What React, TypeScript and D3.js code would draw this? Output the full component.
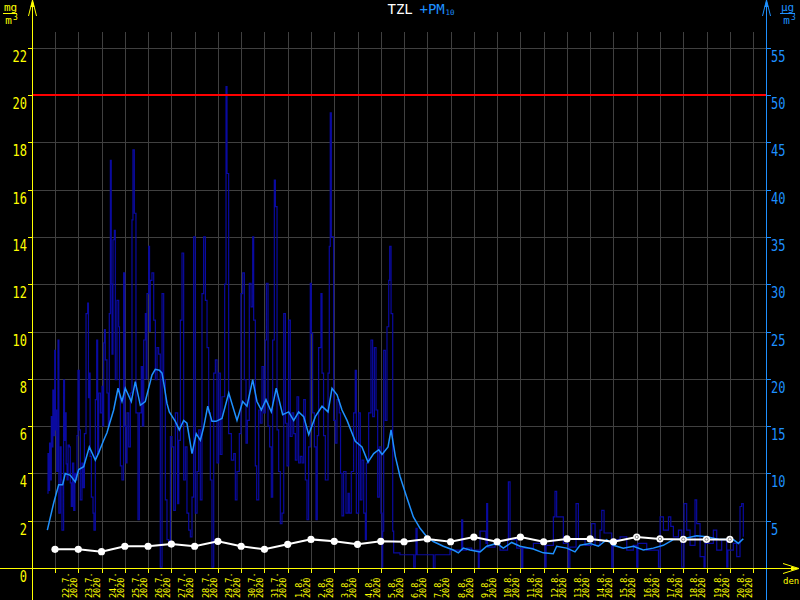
import React from "react";
import * as d3 from "d3";

// ---------- DATA ----------
const dayLabels = [
  "22.7.", "23.7.", "24.7.", "25.7.", "26.7.", "27.7.", "28.7.", "29.7.", "30.7.", "31.7.",
  "1.8.", "2.8.", "3.8.", "4.8.", "5.8.", "6.8.", "7.8.", "8.8.", "9.8.", "10.8.",
  "11.8.", "12.8.", "13.8.", "14.8.", "15.8.", "16.8.", "17.8.", "18.8.", "19.8.", "20.8.",
];
const yearLabel = "2020";
const leftTicks = [0, 2, 4, 6, 8, 10, 12, 14, 16, 18, 20, 22];
const rightTicks = [5, 10, 15, 20, 25, 30, 35, 40, 45, 50, 55];
const pm10Limit = 50;

// TZL daily values (mg/m3, left axis), one per day at 00:00
const tzlValues = [
  0.79, 0.79, 0.69, 0.92, 0.92, 1.01, 0.92, 1.13, 0.92, 0.79,
  1.0, 1.21, 1.13, 1.0, 1.13, 1.11, 1.23, 1.11, 1.31, 1.11,
  1.31, 1.11, 1.23, 1.23, 1.11, 1.31, 1.23, 1.21, 1.21, 1.21,
];
const tzlProvisional = [
  false, false, false, false, false, false, false, false, false, false,
  false, false, false, false, false, false, false, false, false, false,
  false, false, false, false, false, true, true, true, true, true,
];

// PM10 raw values [hours since 22.7. 00:00, ug/m3]
const pm10Raw: [number, number][] = [
  [-7.9, 7.9], [-7.2, 12.1], [-6.5, 8.2], [-5.6, 13.2], [-4.8, 9.3], [-3.8, 16.0], [-3.1, 12.8], [-2.2, 18.8],
  [-1.4, 14], [-0.3, 23.0], [0.4, 14.6], [1.0, 16.7], [1.8, 10.2], [3.1, 24.1], [4.0, 5.8], [5.5, 12.8],
  [6.3, 9.3], [7.2, 4.0], [8.9, 19.9], [9.8, 13.5], [10.7, 16.4], [11.5, 11], [12.4, 9.3], [13.5, 13.0],
  [14.8, 12.8], [15.8, 9], [16.8, 6.5], [18.0, 11.1], [19.3, 6.1], [20.5, 10.0], [21.7, 9.3], [22.7, 14],
  [23.7, 20.9], [25.0, 14.6], [26.1, 7.2], [27.8, 11.1], [29, 8.5], [30.3, 14.2], [32.0, 26.9], [33.7, 28.0],
  [34.5, 18], [35.4, 20.6], [36.2, 11.8], [37.5, 7.5], [39.2, 5.8], [40.2, 4.0], [41.6, 17.8], [43.0, 24.1],
  [44.0, 12.1], [45.0, 18.5], [46.8, 16.4], [48.5, 19.2], [49.3, 15.0], [50.2, 23.8], [51.0, 25.2], [51.9, 22.0],
  [53.6, 18.5], [55.0, 15.0], [56.0, 26.9], [57.1, 43.1], [58.0, 30], [58.8, 22.6], [59.8, 34.7], [61.2, 35.7],
  [62.2, 19.9], [63.9, 28.3], [65.7, 25.5], [66.5, 18], [67.4, 10.8], [69.1, 9.3], [70.8, 31.2], [72.0, 15.0],
  [73.2, 11.1], [74.3, 16.4], [76.0, 12.8], [77.7, 18.5], [79.4, 36.8], [80.4, 44.2], [81.8, 37.5], [83.5, 16.4],
  [85.6, 5.1], [87.0, 16.4], [89.0, 21.3], [90.2, 15], [91.5, 24.1], [93.2, 26.9], [94.0, 20], [94.9, 29.0],
  [96.6, 34.0], [97.5, 25], [98.3, 30.4], [100.0, 31.2], [101.8, 26.2], [103.5, 19.9], [105.2, 23.3], [106.9, 22.6],
  [108.6, 0.1], [110.4, 29.0], [112.1, 19.9], [113.8, 7.2], [115.5, 3.0], [117.2, 2.3], [119.0, 13.9], [120.7, 12.8],
  [122.4, 6.1], [124.1, 16.4], [126.5, 6.8], [127.6, 13.5], [129.3, 26.2], [131.0, 33.3], [132.7, 9.3], [134.4, 12.8],
  [136.1, 5.8], [137.9, 4.0], [139.6, 3.3], [141.3, 7.5], [143.0, 35.0], [144.7, 5.8], [146.5, 10.2], [148.2, 14.6],
  [149.9, 7.2], [151.6, 29.0], [153.3, 35.0], [155.1, 28.3], [156.8, 23.3], [158.5, 16.4], [160.2, 9.3], [161.9, 0.1],
  [163.7, 20.6], [165.4, 22.0], [167.1, 11.1], [168.8, 20.6], [170.5, 12], [172.2, 18.1],
  [175.0, 30.0], [176.4, 50.9], [177.4, 41.7], [179.1, 14.2], [181.9, 11.4], [184.3, 12.1], [186.0, 7.2], [187.7, 10.2],
  [190.1, 14.2], [191.8, 29.0], [193.6, 31.2], [195.3, 19.9], [197.0, 13.2], [198.4, 15.6], [200.4, 30.1], [202.2, 27.6],
  [203.9, 35.0], [204.9, 26.2], [206.6, 10.8], [208.0, 7.2], [210.1, 16.7], [211.8, 15.3], [213.5, 21.3], [215.2, 16.4],
  [216.9, 24.1], [218.0, 30.1], [219.7, 15.0], [221.4, 12.8], [223.1, 7.5], [224.5, 24.1], [226.2, 41.0], [227.3, 38.2],
  [229.0, 14.6], [230.7, 10.2], [232.4, 4.7], [234.1, 5.8], [235.9, 26.9], [237.6, 15.3], [239.3, 10.8], [241.0, 26.2],
  [242.7, 13.9], [244.5, 16.4], [246.2, 14.2], [247.9, 11.4], [249.6, 18.1], [251.3, 11.1], [253.0, 11.8], [254.8, 11.1],
  [256.5, 17.8], [258.2, 9.3], [259.9, 5.1], [261.6, 12.8], [263.3, 30.1], [264.4, 24.8], [265.7, 16.4], [267.5, 12.8],
  [269.2, 5.1], [270.5, 14], [271.9, 23.3], [274.3, 29.0], [275.4, 20.6], [277, 14], [278.8, 9.3], [281.6, 20.6],
  [282.9, 34.0], [283.9, 48.1], [285.0, 35.0], [287.4, 15.6], [289.1, 13.2], [290.8, 17.8], [293.2, 16.4], [294.5, 10],
  [296.0, 5.5], [297.7, 10.2], [300.1, 5.8], [302.2, 7.9], [303.5, 5.8], [305.6, 10.2], [308.0, 16.4], [309.7, 20.9],
  [310.8, 5.8], [313.2, 16.4], [314.9, 7.2], [316.6, 11.4], [318.4, 5.8], [320.1, 3.0], [321.1, 11.1], [323.5, 16.4],
  [325.9, 24.1], [327.6, 16.0], [329.4, 23.3], [331.1, 16.7], [332.8, 7.5], [334.5, 12.8], [336.2, 5.8], [337.3, 0.1],
  [338.0, 3.9], [339.0, 23.0], [340.7, 15.6], [342.4, 25.5], [344.2, 30.4], [345.2, 34.0], [346.6, 26.9], [348.3, 3.9],
  [349.3, 1.6],
  [355.8, 1.4], [369.6, 1.4], [370.0, 0.1], [371.5, 1.4], [372.3, 4.2], [373.5, 1.4], [389.5, 1.4], [390.2, 0],
  [391.9, 1.4], [407.4, 1.9], [418.5, 1.9], [419.4, 5.1], [420.5, 1.9], [424.6, 2.1], [429.8, 1.9], [436.6, 0],
  [437.5, 1.9], [438.4, 3.9], [444.5, 2.6], [445.2, 6.8], [446.2, 2.2], [453.8, 2.5], [459.0, 1.9], [466.8, 3],
  [467.6, 9.1], [469.3, 3.0], [476.2, 2.1], [481.3, 0], [482.5, 2.1], [486.5, 2.1], [493.4, 2.6], [505.4, 0.1],
  [506.5, 2.4], [508.8, 2.4], [514.0, 5.4], [515.7, 8.1], [517.4, 5.4], [524.3, 2.6], [529.5, 0], [531, 2.2],
  [532.9, 2.2], [537.4, 6.8], [539.8, 3.0], [546.7, 2.4], [553.5, 4.7], [557.0, 2.4], [562.1, 4.0], [563.9, 6.1],
  [566.3, 3.7], [574.2, 0.1], [575.5, 3.0], [577.6, 3.0], [582.8, 3.3], [589.7, 1.9], [596.5, 2.4], [600.0, 0.1],
  [601.2, 2.6], [603.4, 2.6], [610.3, 1.9], [617.2, 1.9], [622.4, 0.1], [624.1, 5.4], [627.5, 4.0], [632.7, 5.4],
  [635.1, 4.4], [637.8, 3.3], [643.0, 4.0], [646.4, 0.1], [648.8, 6.8], [651.5, 4.0], [655.0, 2.4], [660.1, 7.2],
  [661.8, 4.7], [665.3, 1.2], [669.4, 0.1], [670.5, 2.6], [672.2, 2.6], [679.0, 4.0], [682.5, 1.9], [687.6, 3.0],
  [692.8, 0.1], [694, 1.9], [696.2, 1.9], [699.6, 2.6], [703.1, 1.2], [706.5, 6.5], [708.2, 6.8], [709.9, 3.3],
];

// PM10 running average [hours since 22.7. 00:00, ug/m3]
const pm10Avg: [number, number][] = [
  [-7.9, 4.0], [-1.3, 6.9], [3.8, 8.8], [7.9, 8.8], [10.6, 10.0], [15.8, 9.8], [20.9, 9.1], [24.4, 10.4],
  [29.6, 10.7], [35.4, 12.8], [41.6, 11.4], [45.1, 12.2], [50.2, 13.5], [53.6, 14.3], [56.4, 15.3], [60.5, 16.7],
  [65.0, 19.0], [69.1, 17.6], [72.5, 19.0], [78.7, 17.6], [82.8, 19.7], [88.0, 17.2], [93.1, 17.6], [100.0, 20.4],
  [103.4, 21.0], [107.6, 20.9], [110.4, 20.6], [112.1, 19.6], [115.5, 17.4], [117.9, 16.5], [124.1, 15.5], [128.2, 14.6],
  [132.7, 15.6], [136.1, 15.3], [141.3, 12.1], [145.7, 14.2], [149.9, 13.5], [153.4, 14.9], [157.5, 17.1], [161.9, 15.5],
  [166.1, 15.5], [172.2, 15.8], [179.2, 18.5], [187.7, 15.6], [193.6, 17.6], [198.0, 17.1], [203.9, 19.9], [208.3, 17.6],
  [212.8, 16.7], [217.6, 17.8], [223.1, 16.5], [228.2, 19.0], [234.8, 16.2], [241.0, 16.5], [246.2, 15.6], [251.3, 16.5],
  [256.5, 16.0], [261.7, 14.1], [268.5, 16.0], [275.4, 17.1], [281.6, 16.5], [285.7, 19.0], [290.9, 18.3], [296.0, 16.7],
  [301.2, 15.6], [309.7, 13.4], [316.6, 12.8], [322.8, 11.2], [328.7, 12.1], [333.9, 12.5], [337.3, 12.0], [343.5, 12.8],
  [346.6, 14.6], [351.0, 11.8], [355.8, 9.7], [362.7, 7.5], [369.6, 5.4], [376.5, 4.2], [383.4, 3.3], [390.2, 2.8],
  [400.5, 2.3], [410.8, 1.9], [416.0, 1.6], [421.1, 2.1], [428.0, 1.9], [438.4, 1.7], [445.3, 2.3], [455.6, 2.6],
  [462.4, 2.1], [471.0, 2.7], [479.6, 2.3], [493.3, 2.0], [503.6, 1.6], [513.9, 1.5], [517.4, 2.3], [527.8, 2.1],
  [536.3, 1.7], [541.5, 2.4], [551.8, 2.6], [560.4, 2.3], [569.0, 3.0], [575.8, 2.4], [586.1, 2.1], [596.5, 2.3],
  [606.8, 1.9], [617.1, 2.1], [627.4, 2.4], [637.7, 3.0], [648.0, 3.1], [661.8, 3.4], [672.2, 3.3], [685.9, 3.0],
  [699.6, 3.0], [704.8, 2.6], [709.9, 3.1],
];

// ---------- CHART ----------
const YELLOW = "#ffff00";
const BLUE = "#1e90ff";
const DARK = "#0a0aa0";
const GRID = "#404040";
const MONO = "'DejaVu Sans Mono', monospace";

export default function App() {
  const plotL = 32, plotR = 766, plotT = 32, plotB = 568;
  const x = d3.scaleLinear().domain([0, 720]).range([55, 753.1]);
  const yL = d3.scaleLinear().domain([0, 20]).range([568, 95]);
  const yR = d3.scaleLinear().domain([0, 50]).range([568, 95]);

  const dayTicks = d3.range(dayLabels.length + 1).map((k) => Math.round(x(k * 24)));

  const rawLine = d3.line<[number, number]>()
    .x((d) => x(d[0]))
    .y((d) => yR(d[1]))
    .curve(d3.curveStepAfter);
  const avgLine = d3.line<[number, number]>()
    .x((d) => x(d[0]))
    .y((d) => yR(d[1]));
  const tzlPts = tzlValues.map((v, i) => [x(i * 24), yL(v)] as [number, number]);
  const tzlLine = d3.line<[number, number]>().x((d) => d[0]).y((d) => d[1]);

  return (
    <svg width={800} height={600} style={{ position: "absolute", left: 0, top: 0, background: "#000" }}>
      <rect x={0} y={0} width={800} height={600} fill="#000" />
      <defs>
        <clipPath id="plot">
          <rect x={plotL + 1} y={0} width={plotR - plotL - 1} height={plotB} />
        </clipPath>
      </defs>

      {/* grid */}
      <g shapeRendering="crispEdges" stroke={GRID} strokeWidth={1}>
        {leftTicks.filter((v) => v > 0).map((v) => (
          <line key={"h" + v} x1={plotL} x2={plotR} y1={Math.round(yL(v)) + 0.5} y2={Math.round(yL(v)) + 0.5} />
        ))}
        {dayTicks.map((t, i) => (
          <line key={"v" + i} x1={t + 0.5} x2={t + 0.5} y1={plotT} y2={plotB} />
        ))}
      </g>

      {/* data */}
      <g clipPath="url(#plot)">
        <path d={rawLine(pm10Raw) || ""} fill="none" stroke={DARK} strokeWidth={1.2} />
        <path d={avgLine(pm10Avg) || ""} fill="none" stroke={BLUE} strokeWidth={1.5} />
      </g>

      {/* limit line */}
      <line x1={plotL} x2={plotR} y1={yR(pm10Limit)} y2={yR(pm10Limit)} stroke="#ff0000" strokeWidth={2} shapeRendering="crispEdges" />

      {/* TZL */}
      <path d={tzlLine(tzlPts) || ""} fill="none" stroke="#fff" strokeWidth={2} />
      {tzlPts.map((p, i) => (
        <g key={"d" + i}>
          <circle cx={p[0]} cy={p[1]} r={3.6} fill="#fff" />
          {tzlProvisional[i] && <circle cx={p[0]} cy={p[1]} r={1.6} fill="none" stroke="#888" strokeWidth={1} />}
        </g>
      ))}

      {/* axes */}
      <g shapeRendering="crispEdges">
        <line x1={plotL + 0.5} x2={plotL + 0.5} y1={0} y2={600} stroke={YELLOW} />
        <line x1={plotR + 0.5} x2={plotR + 0.5} y1={0} y2={600} stroke={BLUE} />
        <line x1={0} x2={797} y1={plotB + 0.5} y2={plotB + 0.5} stroke={YELLOW} />
        {leftTicks.map((v) => (
          <line key={"lt" + v} x1={28} x2={plotL} y1={Math.round(yL(v)) + 0.5} y2={Math.round(yL(v)) + 0.5} stroke={YELLOW} />
        ))}
        {rightTicks.map((v) => (
          <line key={"rt" + v} x1={plotR} x2={771} y1={Math.round(yR(v)) + 0.5} y2={Math.round(yR(v)) + 0.5} stroke={BLUE} />
        ))}
        {dayTicks.map((t, i) => (
          <line key={"xt" + i} x1={t + 0.5} x2={t + 0.5} y1={plotB} y2={573} stroke={YELLOW} />
        ))}
      </g>
      {/* arrows */}
      <path d="M32.5,0 L28.5,16 M32.5,0 L36.5,16" stroke={YELLOW} fill="none" />
      <polygon points="32.5,0 30.5,7 34.5,7" fill={YELLOW} />
      <path d="M766.5,0 L762.5,16 M766.5,0 L770.5,16" stroke={BLUE} fill="none" />
      <polygon points="766.5,0 764.5,7 768.5,7" fill={BLUE} />
      <path d="M799,568.5 L783,563.5 M799,568.5 L783,573.5" stroke={YELLOW} fill="none" />
      <polygon points="799,568.5 791,566.5 791,570.5" fill={YELLOW} />

      {/* tick labels */}
      {leftTicks.map((v) => (
        <text key={"ll" + v} transform={`translate(27,${yL(v) + 14}) scale(0.75,1)`} textAnchor="end"
          fill={YELLOW} fontFamily={MONO} fontSize={16}>{v}</text>
      ))}
      {rightTicks.map((v) => (
        <text key={"rl" + v} transform={`translate(771,${yR(v) + 14}) scale(0.75,1)`} textAnchor="start"
          fill={BLUE} fontFamily={MONO} fontSize={16}>{v}</text>
      ))}
      {dayLabels.map((lab, i) => (
        <g key={"xl" + i} transform={`translate(${dayTicks[i] + 13.5},598) rotate(-90)`}>
          <text x={0} y={0} fill={YELLOW} fontFamily={MONO} fontSize={8.5}>{lab}</text>
          <text x={0} y={8} fill={YELLOW} fontFamily={MONO} fontSize={8.5}>{yearLabel}</text>
        </g>
      ))}
      <text x={783} y={583.5} fill={YELLOW} fontFamily={MONO} fontSize={9}>den</text>

      {/* units */}
      <text x={10.5} y={11} textAnchor="middle" fill={YELLOW} fontFamily={MONO} fontSize={11}>mg</text>
      <line x1={3} x2={17} y1={13.5} y2={13.5} stroke={YELLOW} />
      <text x={8.5} y={23.5} textAnchor="middle" fill={YELLOW} fontFamily={MONO} fontSize={11}>m</text>
      <text x={15.5} y={20} textAnchor="middle" fill={YELLOW} fontFamily={MONO} fontSize={8}>3</text>

      <text x={787.5} y={11} textAnchor="middle" fill={BLUE} fontFamily={MONO} fontSize={11}>µg</text>
      <line x1={780} x2={795} y1={13.5} y2={13.5} stroke={BLUE} />
      <text x={786.5} y={23.5} textAnchor="middle" fill={BLUE} fontFamily={MONO} fontSize={11}>m</text>
      <text x={793.5} y={20} textAnchor="middle" fill={BLUE} fontFamily={MONO} fontSize={8}>3</text>

      {/* title */}
      <text x={387.5} y={13.5} fill="#fff" fontFamily={MONO} fontSize={14}>TZL</text>
      <text x={419.5} y={13.5} fill={BLUE} fontFamily={MONO} fontSize={14}>+PM</text>
      <text x={445.5} y={15} fill={BLUE} fontFamily={MONO} fontSize={7.5}>10</text>
    </svg>
  );
}
